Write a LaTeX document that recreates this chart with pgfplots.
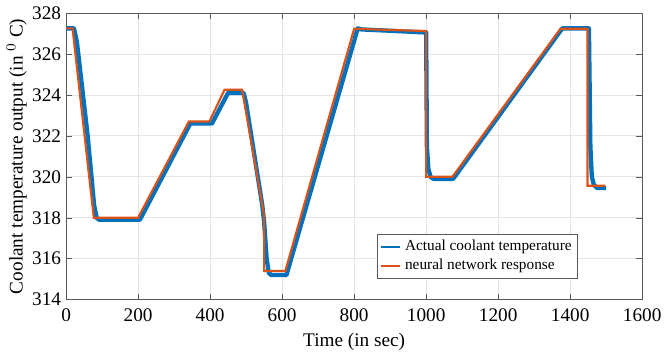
\documentclass[border=0pt]{standalone}
\usepackage{pgfplots}
\pgfplotsset{compat=1.18}
\usepackage{fontspec}
\setmainfont{Liberation Serif}
\definecolor{mblue}{RGB}{0,114,189}
\definecolor{morange}{RGB}{217,83,25}
\begin{document}
\begin{tikzpicture}
\begin{axis}[
  scale only axis,
  width=293.5pt, height=146pt,
  xmin=0, xmax=1600, ymin=314, ymax=328,
  xtick={0,200,...,1600}, ytick={314,316,...,328},
  /pgf/number format/assume math mode=true,
  /pgf/number format/1000 sep={},
  tick label style={font=\fontsize{9.8}{11}\selectfont},
  label style={font=\fontsize{9.8}{11}\selectfont},
  xlabel={Time (in sec)},
  ylabel={Coolant temperature output (in $^{0}$ C)},
  xlabel style={yshift=1pt},
  ylabel style={yshift=-4pt},
  yticklabel style={xshift=1pt},
  xticklabel style={yshift=-1pt},
  grid=major,
  grid style={gray!20, line width=0.4pt},
  axis line style={gray!70!black, line width=0.4pt},
  tick style={gray!70!black},
  tick align=inside,
  major tick length=3pt,
  legend style={at={(0.54,0.229)}, anchor=north west, font=\fontsize{7.8}{9}\selectfont,
    draw=gray!70!black, line width=0.4pt, inner sep=1pt, row sep=-1.5pt},
  legend cell align=left,
  legend image code/.code={\draw[#1, line width=1pt] (0pt,0pt) -- (10pt,0pt);},
]
\addplot[mblue, line width=2.2pt, line join=round] coordinates {
(0,327.25) (22,327.25) (30,326.6) (60,322.0) (78,318.6) (85,318.0) (92,317.9) (205,317.9)
(345,322.6) (405,322.6) (450,324.1) (493,324.1) (500,323.6) (545,318.6) (550,317.8) (557,316.0) (563,315.3) (570,315.2) (612,315.2)
(810,327.25) (820,327.2) (1000,327.05) (1002,321.5) (1006,320.4) (1012,320.0) (1020,319.9) (1075,319.9)
(1378,327.25) (1452,327.25) (1456,321.5) (1460,320.0) (1466,319.6) (1475,319.45) (1500,319.45)
};
\addlegendentry{Actual coolant temperature}
\addplot[morange, line width=1.1pt] coordinates {
(0,327.25) (18,327.25) (77,318.0) (200,318.0)
(341,322.7) (398,322.7) (440,324.25) (489,324.25) (550,318.1) (550,315.4) (609,315.4)
(800,327.23) (1000,327.12) (1000,320.0) (1073,320.0)
(1373,327.23) (1448,327.23) (1448,319.56) (1498,319.56)
};
\addlegendentry{neural network response}
\end{axis}
\end{tikzpicture}
\end{document}
